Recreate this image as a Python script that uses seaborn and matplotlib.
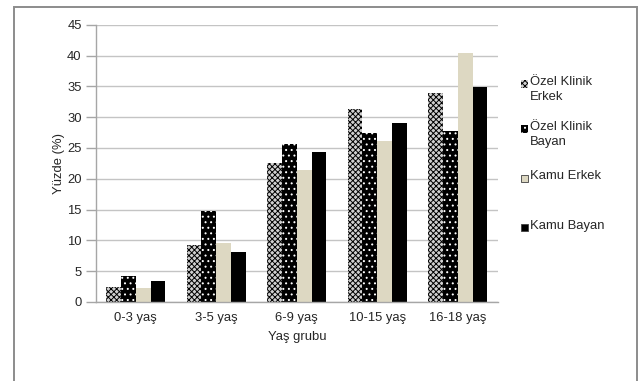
import matplotlib
matplotlib.use("Agg")
import matplotlib.pyplot as plt
from matplotlib.patches import Rectangle
import seaborn as sns
import pandas as pd

# Age groups and the four series (percent)
yas_gruplari = ["0-3 yaş", "3-5 yaş", "6-9 yaş", "10-15 yaş", "16-18 yaş"]
seriler = ["Özel Klinik Erkek", "Özel Klinik Bayan", "Kamu Erkek", "Kamu Bayan"]
ozel_erkek = [2.5, 9.2, 22.5, 31.4, 33.9]
ozel_bayan = [4.2, 14.7, 25.7, 27.4, 27.7]
kamu_erkek = [2.2, 9.5, 21.4, 26.2, 40.4]
kamu_bayan = [3.4, 8.1, 24.4, 29.0, 34.9]
legend_etiketleri = ["Özel Klinik\nErkek", "Özel Klinik\nBayan", "Kamu Erkek", "Kamu Bayan"]
y_ticks = [0, 5, 10, 15, 20, 25, 30, 35, 40, 45]

degerler = [ozel_erkek, ozel_bayan, kamu_erkek, kamu_bayan]
df = pd.DataFrame(
    [(g, s, v) for s, vals in zip(seriler, degerler) for g, v in zip(yas_gruplari, vals)],
    columns=["Yaş grubu", "Seri", "Yüzde"],
)

sns.set_theme(style="white")
plt.rcParams["font.family"] = ["Liberation Sans", "DejaVu Sans"]
plt.rcParams["hatch.linewidth"] = 0.7

text_color = "#262626"
beige = "#DDD8C2"
fs = 9.4

fig = plt.figure(figsize=(6.39, 3.81), dpi=100)
ax = fig.add_axes([95.5 / 639, 1 - 302 / 381, 402.5 / 639, (302 - 24.8) / 381])

sns.barplot(
    data=df, x="Yaş grubu", y="Yüzde", hue="Seri", order=yas_gruplari,
    hue_order=seriler, width=0.733, gap=0, errorbar=None, ax=ax, legend=False,
)

# Series fill styles: (face, hatch, hatch colour)
stiller = [
    ("#d0d0d0", "xxxxxx", "black"),
    ("black", "...", "white"),
    (beige, "", beige),
    ("black", "", "black"),
]
for container, (fc, hatch, hc) in zip(ax.containers, stiller):
    for bar in container:
        bar.set_facecolor(fc)
        bar.set_hatch(hatch)
        bar.set_edgecolor(hc)
        bar.set_linewidth(0)

ax.set_ylim(0, 45)
ax.set_yticks(y_ticks)
ax.set_xlim(-0.5, len(yas_gruplari) - 0.5)
ax.yaxis.grid(True, color="#c4c4c4", linewidth=1.0)
ax.set_axisbelow(True)

for side in ["top", "right"]:
    ax.spines[side].set_visible(False)
for side in ["left", "bottom"]:
    ax.spines[side].set_color("#a6a6a6")
    ax.spines[side].set_linewidth(1.0)

ax.tick_params(axis="y", left=True, length=7, width=1.0, color="#a6a6a6",
               pad=3, labelsize=fs, labelcolor=text_color)
ax.tick_params(axis="x", bottom=False, length=0, pad=7, labelsize=fs,
               labelcolor=text_color)

ax.set_xlabel("Yaş grubu", fontsize=fs, color=text_color)
ax.set_ylabel("Yüzde (%)", fontsize=fs, color=text_color)
ax.xaxis.set_label_coords(0.5, -0.105)
ax.yaxis.set_label_coords(-0.075, 0.5)

# Legend drawn as patches and text down the right side
W, H = 639, 381
satirlar_y = [84, 129, 178, 228]
for (fc, hatch, hc), etiket, y in zip(stiller, legend_etiketleri, satirlar_y):
    fig.patches.append(Rectangle((521 / W, 1 - (y + 3.5) / H), 7 / W, 7 / H,
                                 transform=fig.transFigure, facecolor=fc,
                                 hatch=hatch, edgecolor=hc if hatch else "#404040",
                                 linewidth=0 if hatch else 0.6))
    fig.text(530 / W, 1 - (y - 8) / H, etiket, ha="left", va="top",
             fontsize=fs, color=text_color, linespacing=1.3)

# Outer chart-area border
fig.patches.append(Rectangle((14 / W, -0.2), (636.5 - 14) / W, 1.2 - 7 / H,
                             transform=fig.transFigure, fill=False,
                             edgecolor="#8c8c8c", linewidth=1.4))

fig.savefig("out.png", dpi=100)
